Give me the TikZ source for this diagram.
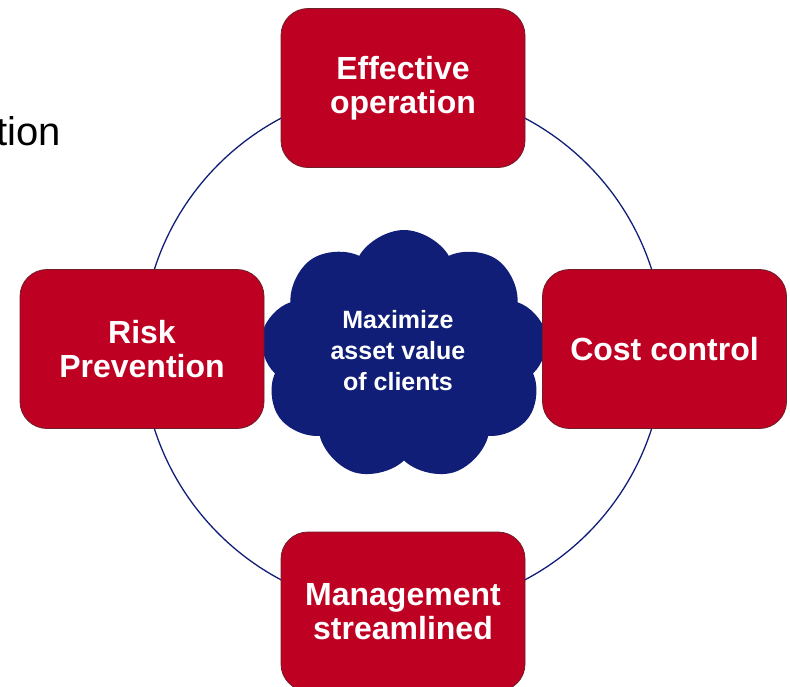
\documentclass[tikz,border=0pt]{standalone}
\usepackage{fontspec}
\setmainfont{Liberation Sans}
\usetikzlibrary{shapes.symbols}
\definecolor{boxred}{RGB}{190,0,34}
\definecolor{boxedge}{RGB}{110,30,40}
\definecolor{navy}{RGB}{16,30,120}
\tikzset{
  redbox/.style={draw=boxedge, line width=0.8pt, fill=boxred, rounded corners=27pt,
    minimum width=244pt, minimum height=159pt, inner sep=0pt, align=center,
    text=white, font=\fontsize{32}{34}\selectfont\bfseries},
  cloudnode/.style={cloud, cloud puffs=9, cloud puff arc=120, aspect=1.15,
    fill=navy, draw=none, minimum width=288pt, minimum height=250pt, inner sep=0pt},
  cloudtext/.style={text=white, align=center, font=\fontsize{25}{31}\selectfont\bfseries},
  ring/.style={draw=navy, line width=1.3pt},
  slidetext/.style={font=\fontsize{40}{44}\selectfont, text=black, inner sep=0pt}
}
\begin{document}
\begin{tikzpicture}[x=1pt,y=-1pt]
\useasboundingbox (0,0) rectangle (790,686);
\coordinate (c) at (403,349);
\draw[ring] (c) circle (261);
\node[cloudnode, shape border rotate=10] (cl) at (404,355) {};
\node[cloudtext] (cltext) at (398,351) {Maximize\\asset value\\of clients};
\node[redbox] (top) at (403,88) {Effective\\operation};
\node[redbox] (right) at (664.5,349) {Cost control};
\node[redbox] (left) at (142,349) {Risk\\Prevention};
\node[redbox] (bottom) at (403,611.5) {Management\\streamlined};
\node[slidetext, anchor=base east] (tion) at (61,145) {tion};
\end{tikzpicture}
\end{document}
